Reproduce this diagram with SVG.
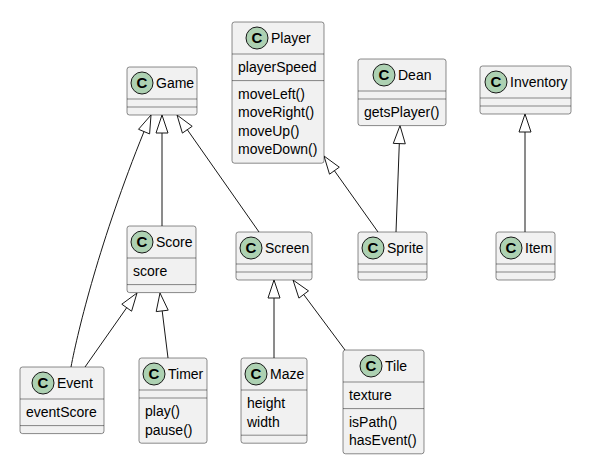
<svg xmlns="http://www.w3.org/2000/svg" width="598" height="461" viewBox="0 0 598 461">
<style>
.box{fill:#F1F1F1;stroke:#181818;stroke-width:0.5}
.div{stroke:#181818;stroke-width:0.5}
.circ{fill:#ADD1B2;stroke:#181818;stroke-width:1}
.c{font-family:"Liberation Sans",Arial,sans-serif;font-size:15px;font-weight:bold;fill:#000;text-anchor:middle}
.t{font-family:"Liberation Sans",Arial,sans-serif;font-size:14px;fill:#000}
.edge{fill:none;stroke:#181818;stroke-width:1}
</style>
<rect width="598" height="461" fill="#FFFFFF"/>
<g id="connectors">
<path class="edge" d="M71,367 C78,330 100,240 144,131.6"/>
<polygon class="edge" points="151,115 149.6,133.9 138.5,129.3 151,115"/>
<path class="edge" d="M162,133 L162,226"/>
<polygon class="edge" points="162,115 156,133 168,133 162,115"/>
<path class="edge" d="M187.3,129.7 L259,232"/>
<polygon class="edge" points="177,115 192.2,126.3 182.4,133.1 177,115"/>
<path class="edge" d="M126.7,307.7 L85,367"/>
<polygon class="edge" points="137,293 131.6,311.2 121.8,304.2 137,293"/>
<path class="edge" d="M162.2,310.9 L168,358"/>
<polygon class="edge" points="160,293 168.2,310.2 156.2,311.6 160,293"/>
<path class="edge" d="M274,298 L274,358"/>
<polygon class="edge" points="274,280 268,298 280,298 274,280"/>
<path class="edge" d="M303.7,294.5 L345,350"/>
<polygon class="edge" points="293,280 308.5,290.9 298.9,298.1 293,280"/>
<path class="edge" d="M334.4,170.7 L378,232"/>
<polygon class="edge" points="324,156 339.3,167.2 329.5,174.2 324,156"/>
<path class="edge" d="M399.3,143.6 L396,232"/>
<polygon class="edge" points="400,125.6 405.3,143.8 393.3,143.4 400,125.6"/>
<path class="edge" d="M525,132 L525,232"/>
<polygon class="edge" points="525,114 519,132 531,132 525,114"/>
</g>
<g id="Game">
<rect class="box" x="127" y="67" width="70" height="48" rx="2.5"/>
<circle class="circ" cx="142" cy="83" r="11"/><text class="c" x="142" y="88.4">C</text>
<text class="t" x="156" y="88">Game</text>
<line class="div" x1="127" y1="99" x2="197" y2="99"/><line class="div" x1="127" y1="107" x2="197" y2="107"/>
</g>
<g id="Player">
<rect class="box" x="232" y="22" width="92" height="141.2" rx="2.5"/>
<circle class="circ" cx="257" cy="38" r="11"/><text class="c" x="257" y="43.4">C</text>
<text class="t" x="271" y="43">Player</text>
<line class="div" x1="232" y1="54" x2="324" y2="54"/><line class="div" x1="232" y1="80.6" x2="324" y2="80.6"/>
<text class="t" x="238" y="72">playerSpeed</text>
<text class="t" x="238" y="98.6">moveLeft()</text>
<text class="t" x="238" y="117.2">moveRight()</text>
<text class="t" x="238" y="135.8">moveUp()</text>
<text class="t" x="238" y="154.4">moveDown()</text>
</g>
<g id="Dean">
<rect class="box" x="358" y="59" width="88" height="66.6" rx="2.5"/>
<circle class="circ" cx="384" cy="75" r="11"/><text class="c" x="384" y="80.4">C</text>
<text class="t" x="398" y="80">Dean</text>
<line class="div" x1="358" y1="91" x2="446" y2="91"/><line class="div" x1="358" y1="99" x2="446" y2="99"/>
<text class="t" x="364" y="117">getsPlayer()</text>
</g>
<g id="Inventory">
<rect class="box" x="480" y="66" width="91" height="48" rx="2.5"/>
<circle class="circ" cx="496" cy="82" r="11"/><text class="c" x="496" y="87.4">C</text>
<text class="t" x="510" y="87">Inventory</text>
<line class="div" x1="480" y1="98" x2="571" y2="98"/><line class="div" x1="480" y1="106" x2="571" y2="106"/>
</g>
<g id="Score">
<rect class="box" x="127" y="226" width="69" height="66.6" rx="2.5"/>
<circle class="circ" cx="142" cy="242" r="11"/><text class="c" x="142" y="247.4">C</text>
<text class="t" x="156" y="247">Score</text>
<line class="div" x1="127" y1="258" x2="196" y2="258"/><line class="div" x1="127" y1="284.6" x2="196" y2="284.6"/>
<text class="t" x="133" y="276">score</text>
</g>
<g id="Screen">
<rect class="box" x="236" y="232" width="76" height="48" rx="2.5"/>
<circle class="circ" cx="251" cy="248" r="11"/><text class="c" x="251" y="253.4">C</text>
<text class="t" x="265" y="253">Screen</text>
<line class="div" x1="236" y1="264" x2="312" y2="264"/><line class="div" x1="236" y1="272" x2="312" y2="272"/>
</g>
<g id="Sprite">
<rect class="box" x="358" y="232" width="69" height="48" rx="2.5"/>
<circle class="circ" cx="373" cy="248" r="11"/><text class="c" x="373" y="253.4">C</text>
<text class="t" x="387" y="253">Sprite</text>
<line class="div" x1="358" y1="264" x2="427" y2="264"/><line class="div" x1="358" y1="272" x2="427" y2="272"/>
</g>
<g id="Item">
<rect class="box" x="496" y="232" width="59" height="48" rx="2.5"/>
<circle class="circ" cx="511" cy="248" r="11"/><text class="c" x="511" y="253.4">C</text>
<text class="t" x="525" y="253">Item</text>
<line class="div" x1="496" y1="264" x2="555" y2="264"/><line class="div" x1="496" y1="272" x2="555" y2="272"/>
</g>
<g id="Event">
<rect class="box" x="20" y="367" width="84" height="66.6" rx="2.5"/>
<circle class="circ" cx="43" cy="383" r="11"/><text class="c" x="43" y="388.4">C</text>
<text class="t" x="57" y="388">Event</text>
<line class="div" x1="20" y1="399" x2="104" y2="399"/><line class="div" x1="20" y1="425.6" x2="104" y2="425.6"/>
<text class="t" x="26" y="417">eventScore</text>
</g>
<g id="Timer">
<rect class="box" x="139" y="358" width="68" height="85.2" rx="2.5"/>
<circle class="circ" cx="154" cy="374" r="11"/><text class="c" x="154" y="379.4">C</text>
<text class="t" x="168" y="379">Timer</text>
<line class="div" x1="139" y1="390" x2="207" y2="390"/><line class="div" x1="139" y1="398" x2="207" y2="398"/>
<text class="t" x="145" y="416">play()</text>
<text class="t" x="145" y="434.6">pause()</text>
</g>
<g id="Maze">
<rect class="box" x="241" y="358" width="66" height="85.2" rx="2.5"/>
<circle class="circ" cx="256" cy="374" r="11"/><text class="c" x="256" y="379.4">C</text>
<text class="t" x="270" y="379">Maze</text>
<line class="div" x1="241" y1="390" x2="307" y2="390"/><line class="div" x1="241" y1="435.2" x2="307" y2="435.2"/>
<text class="t" x="247" y="408">height</text>
<text class="t" x="247" y="426.6">width</text>
</g>
<g id="Tile">
<rect class="box" x="343" y="350" width="81" height="103.8" rx="2.5"/>
<circle class="circ" cx="371" cy="366" r="11"/><text class="c" x="371" y="371.4">C</text>
<text class="t" x="385" y="371">Tile</text>
<line class="div" x1="343" y1="382" x2="424" y2="382"/><line class="div" x1="343" y1="408.6" x2="424" y2="408.6"/>
<text class="t" x="349" y="400">texture</text>
<text class="t" x="349" y="426.6">isPath()</text>
<text class="t" x="349" y="445.2">hasEvent()</text>
</g>
</svg>
